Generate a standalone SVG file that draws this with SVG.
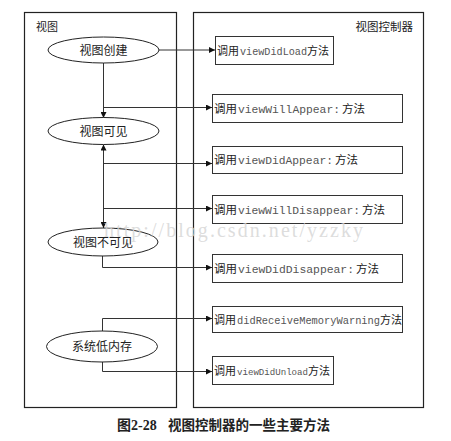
<svg xmlns="http://www.w3.org/2000/svg" width="451" height="441" viewBox="0 0 451 441">
<defs>
<marker id="ah" viewBox="0 0 10 10" refX="10" refY="5" markerWidth="7" markerHeight="6" markerUnits="userSpaceOnUse" orient="auto-start-reverse">
<path d="M0,0 L10,5 L0,10 z" fill="#111"/>
</marker>
<style>
.panel{fill:none;stroke:#222;stroke-width:1.2}
.ell{fill:#fff;stroke:#222;stroke-width:1}
.box{fill:#fff;stroke:#333;stroke-width:1}
.cn{font-family:"Noto Sans CJK SC","Noto Sans CJK JP",sans-serif;fill:#222}
.mono{font-family:"Liberation Mono",monospace;fill:#555}
.conn{fill:none;stroke:#333;stroke-width:1}
.wm{font-family:"Liberation Serif",serif;font-size:20px;fill:#d4d4d4;fill-opacity:0.8}
</style>
</defs>
<rect x="0" y="0" width="451" height="441" fill="#fff"/>
<g id="panel-view">
<rect class="panel" x="24.5" y="12.5" width="152" height="395"/>
<text class="cn" x="36" y="31" font-size="11">视图</text>
</g>
<g id="panel-controller">
<rect class="panel" x="193.5" y="12.5" width="230" height="395"/>
<text class="cn" x="413" y="31" font-size="11.5" text-anchor="end">视图控制器</text>
</g>
<g id="connectors">
<path class="conn" d="M159,50 H215" marker-end="url(#ah)"/>
<path class="conn" d="M103.5,63 V118" marker-end="url(#ah)"/>
<path class="conn" d="M103.5,107.5 H212" marker-end="url(#ah)"/>
<path class="conn" d="M103.5,144.5 V228" marker-start="url(#ah)" marker-end="url(#ah)"/>
<path class="conn" d="M103.5,163.5 H212" marker-end="url(#ah)"/>
<path class="conn" d="M103.5,208.5 H212" marker-end="url(#ah)"/>
<path class="conn" d="M102.5,256 V267.5 H212" marker-end="url(#ah)"/>
<path class="conn" d="M102.5,331 V318.5 H212" marker-end="url(#ah)"/>
<path class="conn" d="M102.5,362 V371.5 H212" marker-end="url(#ah)"/>
</g>
<g id="n-create">
<ellipse class="ell" cx="103.5" cy="50" rx="55.5" ry="13"/>
<text class="cn" x="103.5" y="54.5" font-size="12" text-anchor="middle">视图创建</text>
</g>
<g id="n-visible">
<ellipse class="ell" cx="103.5" cy="131" rx="55.5" ry="13.5"/>
<text class="cn" x="103.5" y="135.5" font-size="12" text-anchor="middle">视图可见</text>
</g>
<g id="n-invisible">
<ellipse class="ell" cx="103" cy="242" rx="55" ry="14"/>
<text class="cn" x="103" y="246.5" font-size="12" text-anchor="middle">视图不可见</text>
</g>
<g id="n-lowmem">
<ellipse class="ell" cx="102" cy="346.5" rx="55.5" ry="15.5"/>
<text class="cn" x="102" y="351" font-size="12" text-anchor="middle">系统低内存</text>
</g>
<g id="b-viewDidLoad">
<rect class="box" x="215.5" y="36.5" width="118" height="28"/>
<text x="217" y="54.5"><tspan class="cn" font-size="11">调用</tspan><tspan class="mono" x="240" font-size="10.2" textLength="67" lengthAdjust="spacingAndGlyphs">viewDidLoad</tspan><tspan class="cn" x="307" font-size="11">方法</tspan></text>
</g>
<g id="b-viewWillAppear">
<rect class="box" x="212.5" y="94.5" width="190" height="28"/>
<text x="214" y="112.5"><tspan class="cn" font-size="11.5">调用</tspan><tspan class="mono" x="238" font-size="11.3" textLength="102" lengthAdjust="spacingAndGlyphs">viewWillAppear:</tspan><tspan class="cn" x="342" font-size="11.5">方法</tspan></text>
</g>
<g id="b-viewDidAppear">
<rect class="box" x="212.5" y="146.5" width="190" height="27"/>
<text x="214" y="164"><tspan class="cn" font-size="11.5">调用</tspan><tspan class="mono" x="238" font-size="11.3" textLength="95" lengthAdjust="spacingAndGlyphs">viewDidAppear:</tspan><tspan class="cn" x="335" font-size="11.5">方法</tspan></text>
</g>
<g id="b-viewWillDisappear">
<rect class="box" x="212.5" y="195.5" width="190" height="28"/>
<text x="214" y="213.5"><tspan class="cn" font-size="11.5">调用</tspan><tspan class="mono" x="238" font-size="11.3" textLength="122" lengthAdjust="spacingAndGlyphs">viewWillDisappear:</tspan><tspan class="cn" x="362" font-size="11.5">方法</tspan></text>
</g>
<g id="b-viewDidDisappear">
<rect class="box" x="212.5" y="254.5" width="190" height="28"/>
<text x="214" y="272.5"><tspan class="cn" font-size="11.5">调用</tspan><tspan class="mono" x="238" font-size="11.3" textLength="116" lengthAdjust="spacingAndGlyphs">viewDidDisappear:</tspan><tspan class="cn" x="356" font-size="11.5">方法</tspan></text>
</g>
<g id="b-didReceiveMemoryWarning">
<rect class="box" x="212.5" y="306.5" width="190" height="26"/>
<text x="214" y="323.5"><tspan class="cn" font-size="11">调用</tspan><tspan class="mono" x="237" font-size="10.3" textLength="143" lengthAdjust="spacingAndGlyphs">didReceiveMemoryWarning</tspan><tspan class="cn" x="380" font-size="11">方法</tspan></text>
</g>
<g id="b-viewDidUnload">
<rect class="box" x="212.5" y="356.5" width="121" height="28"/>
<text x="214" y="374.5"><tspan class="cn" font-size="11">调用</tspan><tspan class="mono" x="237" font-size="9.2" textLength="71" lengthAdjust="spacingAndGlyphs">viewDidUnload</tspan><tspan class="cn" x="308" font-size="11">方法</tspan></text>
</g>
<text class="wm" x="104" y="237" textLength="259" lengthAdjust="spacing">http://blog.csdn.net/yzzky</text>
<g id="caption">
<text x="117" y="430" font-weight="bold"><tspan font-family="'Liberation Serif','Noto Sans CJK SC',serif" font-size="14" fill="#222">图2-28</tspan><tspan class="cn" x="168" font-size="13.5">视图控制器的一些主要方法</tspan></text>
</g>
</svg>
